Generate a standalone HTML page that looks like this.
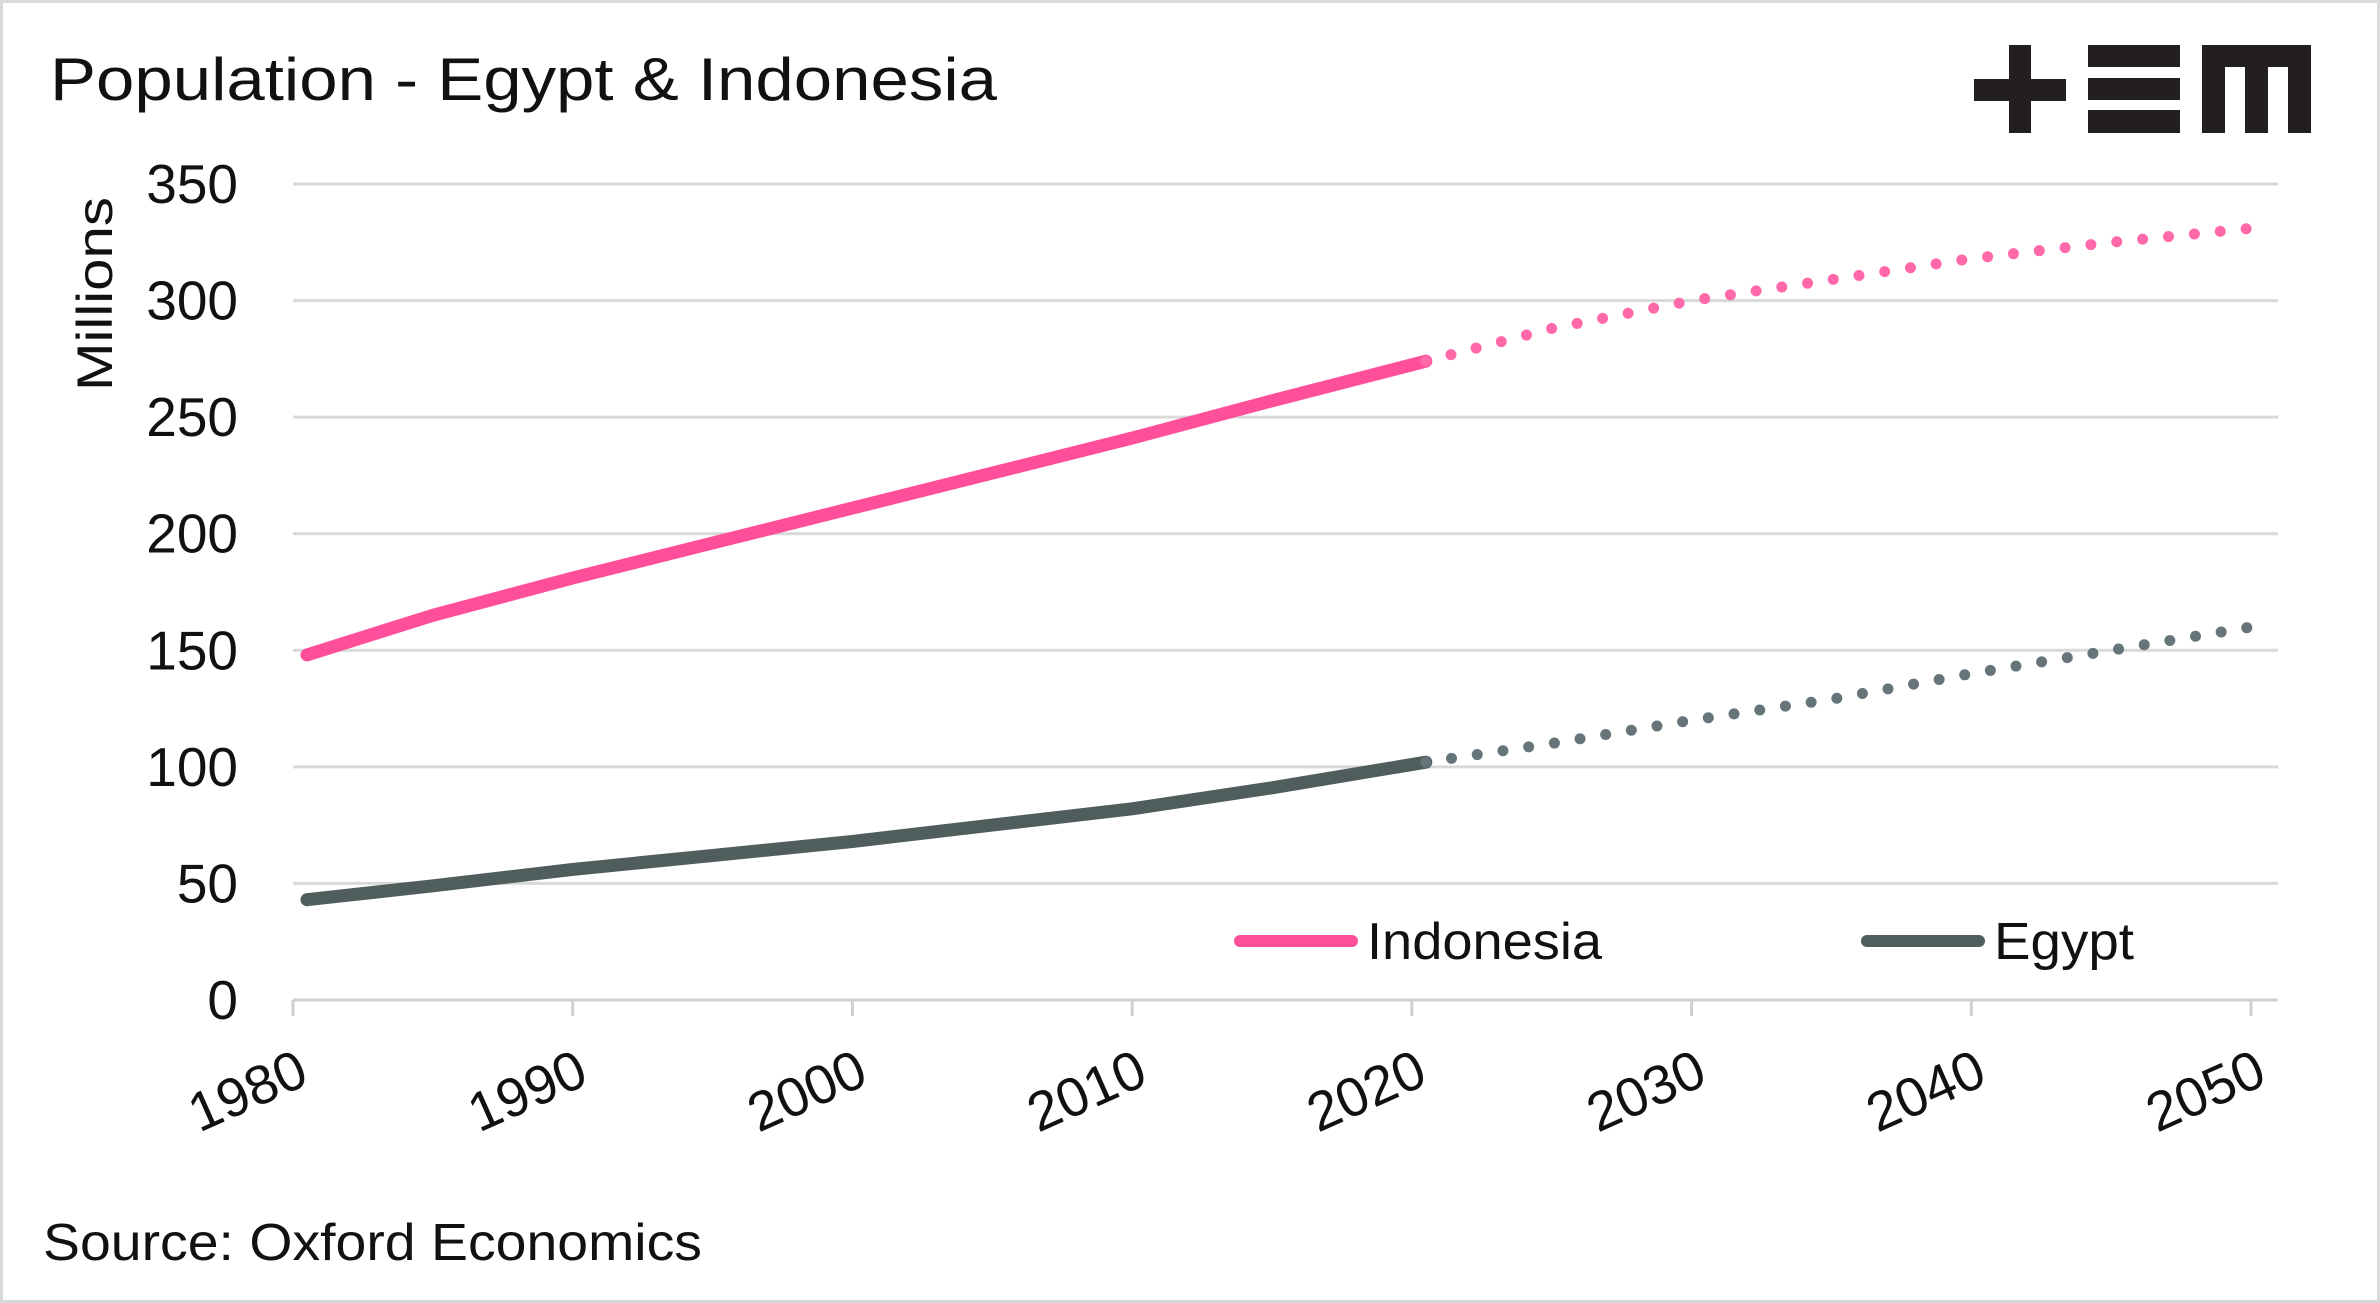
<!DOCTYPE html>
<html><head><meta charset="utf-8"><style>
html,body{margin:0;padding:0;background:#fff}
svg{display:block}
text{font-family:"Liberation Sans",sans-serif;fill:#111}
</style></head><body>
<svg id="chart" width="2380" height="1303" viewBox="0 0 2380 1303">
<rect x="1.5" y="1.5" width="2377" height="1300" fill="#fff" stroke="#d9d9d9" stroke-width="3"/>
<text x="50" y="100" font-size="60" textLength="947" lengthAdjust="spacingAndGlyphs">Population - Egypt &amp; Indonesia</text>
<g fill="#231f20">
<rect x="1974" y="79" width="92" height="22"/><rect x="2009" y="45" width="22" height="88"/>
<rect x="2088" y="45" width="92" height="22"/><rect x="2088" y="78" width="92" height="22"/><rect x="2088" y="110" width="92" height="23"/>
<path d="M2202 45H2311V133H2288V67H2268V133H2245V67H2225V133H2202Z"/>
</g>
<g id="grid"></g><g id="yt"></g><g id="xt"></g><g id="series"></g>
<text transform="translate(112,294) rotate(-90)" font-size="50" text-anchor="middle" textLength="194" lengthAdjust="spacingAndGlyphs">Millions</text>
<line x1="1240" y1="941" x2="1352" y2="941" stroke="#ff4f9a" stroke-width="12" stroke-linecap="round"/>
<text x="1367" y="959" font-size="52" textLength="235" lengthAdjust="spacingAndGlyphs">Indonesia</text>
<line x1="1867" y1="941" x2="1979" y2="941" stroke="#4f5d5d" stroke-width="12" stroke-linecap="round"/>
<text x="1994" y="959" font-size="52" textLength="140" lengthAdjust="spacingAndGlyphs">Egypt</text>
<text x="43" y="1260" font-size="52" textLength="659" lengthAdjust="spacingAndGlyphs">Source: Oxford Economics</text>
</svg>
<script>
const yTicks=[0,50,100,150,200,250,300,350];
const xTicks=[1980,1990,2000,2010,2020,2030,2040,2050];
const histYears=[1980.5,1985,1990,1995,2000,2005,2010,2015,2020.5];
const indoHist=[148,165,181,196,211,226,241,257,274];
const egyptHist=[43,49,56,62,68,75,82,91,102];
const projYears=[2020.5,2025,2030,2035,2040,2045,2050];
const indoProj=[274,288,300,309,318,325,331];
const egyptProj=[102,110,120,129,140,150,160];
const NS='http://www.w3.org/2000/svg';
const X=y=>293+(y-1980)*(2251-293)/70;
const Y=v=>1000-v*(1000-184)/350;
function mk(tag,attrs,parent){const e=document.createElementNS(NS,tag);for(const k in attrs)e.setAttribute(k,attrs[k]);document.getElementById(parent).appendChild(e);return e;}
yTicks.forEach(v=>{
 const l=mk('line',{x1:293,x2:2278,y1:Y(v),y2:Y(v),stroke:v===0?'#cfcfcf':'#d9d9d9','stroke-width':3},'grid');
 
 
 const t=mk('text',{x:238,y:Y(v)+19,'font-size':55,'text-anchor':'end'},'yt');t.textContent=v;
 
 
});
xTicks.forEach(yr=>{
 const l=mk('line',{x1:X(yr),x2:X(yr),y1:1000,y2:1016,stroke:'#cfcfcf','stroke-width':3},'xt');
 
 
 const t=mk('text',{transform:`translate(${X(yr)-38},1108) rotate(-24)`,'font-size':55,'text-anchor':'middle'},'xt');t.textContent=yr;
 
 
});
function path(xs,vs){return xs.map((x,i)=>(i?'L':'M')+X(x).toFixed(1)+' '+Y(vs[i]).toFixed(1)).join('');}
const s1=mk('path',{d:path(histYears,indoHist),fill:'none',stroke:'#ff4f9a','stroke-width':13,'stroke-linecap':'round','stroke-linejoin':'round'},'series');


const s2=mk('path',{d:path(projYears,indoProj),fill:'none',stroke:'#ff69aa','stroke-width':11,'stroke-linecap':'round','stroke-dasharray':'0 26'},'series');


const s3=mk('path',{d:path(histYears,egyptHist),fill:'none',stroke:'#4f5d5d','stroke-width':13,'stroke-linecap':'round','stroke-linejoin':'round'},'series');


const s4=mk('path',{d:path(projYears,egyptProj),fill:'none',stroke:'#65757a','stroke-width':11,'stroke-linecap':'round','stroke-dasharray':'0 26'},'series');


</script>
</body></html>
